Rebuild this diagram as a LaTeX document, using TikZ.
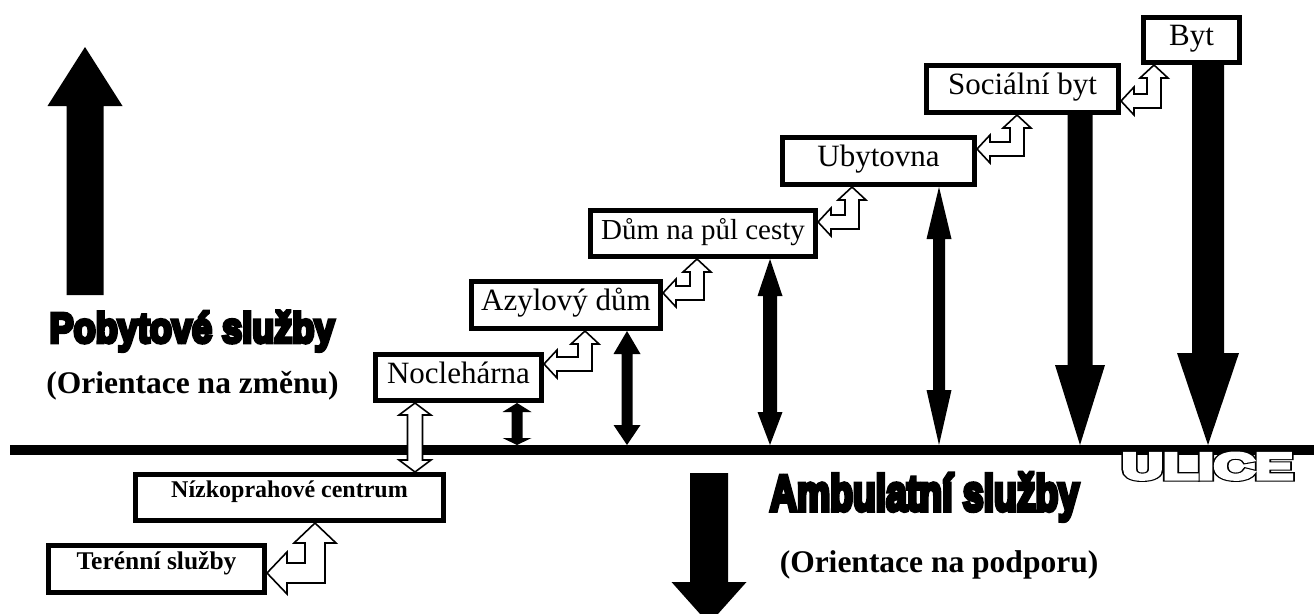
\documentclass[tikz,border=0pt]{standalone}
\usepackage{fontspec}
\usepackage{graphicx}
\setmainfont{Liberation Serif}
\newfontfamily\heavy{Liberation Sans Bold}[FakeBold=9]
\newfontfamily\heavyO{Liberation Sans Bold}[FakeBold=14]
\newfontfamily\heavyI{Liberation Sans Bold}[FakeBold=8]
\usetikzlibrary{calc}

\tikzset{
  box/.style={draw, line width=5pt, fill=white, inner sep=0pt, rectangle,
    font=\fontsize{31}{37}\selectfont, text height=24pt, text depth=13pt},
  boldbox/.style={box, font=\bfseries\fontsize{24}{28}\selectfont, text height=17pt, text depth=17pt},
  hollow/.style={draw, line width=1.6pt, fill=white, line join=miter},
  heavytext/.style={anchor=base, inner sep=0pt},
  subtitle/.style={anchor=base, inner sep=0pt, font=\bfseries\fontsize{31.5}{36}\selectfont},
}

% hollow elbow double arrow: lower node, upper node, xc, yc, w, a, h
\newcommand\elbow[7]{%
  \path[hollow] let \p1=(#1.east), \p2=(#2.south) in
    (\x1,{#4pt}) -- ({\x1+#7pt},{#4pt+#6pt}) -- ({\x1+#7pt},{#4pt+#5pt})
    -- ({#3pt-#5pt},{#4pt+#5pt}) -- ({#3pt-#5pt},{\y2-#7pt}) -- ({#3pt-#6pt},{\y2-#7pt})
    -- ({#3pt},\y2) -- ({#3pt+#6pt},{\y2-#7pt}) -- ({#3pt+#5pt},{\y2-#7pt})
    -- ({#3pt+#5pt},{#4pt-#5pt}) -- ({\x1+#7pt},{#4pt-#5pt}) -- ({\x1+#7pt},{#4pt-#6pt}) -- cycle;}

% black double arrow from node bottom to street: node, x, w, a, htop, hbot
\newcommand\vdouble[6]{%
  \fill let \p1=(#1.south), \p2=(street.north) in
    ({#2pt},\y1) -- ({#2pt+#4pt},{\y1-#5pt}) -- ({#2pt+#3pt},{\y1-#5pt})
    -- ({#2pt+#3pt},{\y2+#6pt}) -- ({#2pt+#4pt},{\y2+#6pt}) -- ({#2pt},\y2)
    -- ({#2pt-#4pt},{\y2+#6pt}) -- ({#2pt-#3pt},{\y2+#6pt}) -- ({#2pt-#3pt},{\y1-#5pt})
    -- ({#2pt-#4pt},{\y1-#5pt}) -- cycle;}

% black single down arrow from node to street: node, x, w, a, h
\newcommand\vdown[5]{%
  \fill let \p1=(#1.south), \p2=(street.north) in
    ({#2pt-#3pt},\y1) -- ({#2pt+#3pt},\y1) -- ({#2pt+#3pt},{\y2+#5pt})
    -- ({#2pt+#4pt},{\y2+#5pt}) -- ({#2pt},\y2) -- ({#2pt-#4pt},{\y2+#5pt})
    -- ({#2pt-#3pt},{\y2+#5pt}) -- cycle;}

% hollow vertical double arrow: upper node, lower node, x, w, a, h
\newcommand\vhollow[6]{%
  \path[hollow] let \p1=(#1.south), \p2=(#2.north) in
    ({#3pt},\y1) -- ({#3pt+#5pt},{\y1-#6pt}) -- ({#3pt+#4pt},{\y1-#6pt})
    -- ({#3pt+#4pt},{\y2+#6pt}) -- ({#3pt+#5pt},{\y2+#6pt}) -- ({#3pt},\y2)
    -- ({#3pt-#5pt},{\y2+#6pt}) -- ({#3pt-#4pt},{\y2+#6pt}) -- ({#3pt-#4pt},{\y1-#6pt})
    -- ({#3pt-#5pt},{\y1-#6pt}) -- cycle;}

\begin{document}
\begin{tikzpicture}[x=1pt,y=1pt]
\useasboundingbox (0,0) rectangle (1314,-613);
\clip (0,0) rectangle (1314,-613);

% street line
\node[fill=black, inner sep=0pt, outer sep=0pt, minimum width=1304pt, minimum height=10pt] (street) at (662,-450) {};

% boxes (outer size minus line width)
\node[box, minimum width=166pt, minimum height=46pt] (nocl) at (458.5,-377.5) {Noclehárna};
\node[box, minimum width=189pt, minimum height=47pt] (azyl) at (566,-305) {Azylový dům};
\node[box, minimum width=225pt, minimum height=46pt, font=\fontsize{29}{35}\selectfont] (dum) at (703,-233.5) {Dům na půl cesty};
\node[box, minimum width=192pt, minimum height=47pt] (ubyt) at (878.5,-161) {Ubytovna};
\node[box, minimum width=192pt, minimum height=47pt] (soc) at (1022.5,-89) {Sociální byt};
\node[box, minimum width=96pt, minimum height=45pt] (byt) at (1191.5,-40) {Byt};
\node[boldbox, minimum width=308pt, minimum height=46pt] (nizko) at (289.5,-497.5) {Nízkoprahové centrum};
\node[boldbox, minimum width=216pt, minimum height=47pt, font=\bfseries\fontsize{25.5}{30}\selectfont] (teren) at (156.5,-569) {Terénní služby};

% black arrows from the street up to the boxes
\vdouble{nocl}{517}{5.5}{14.5}{9}{7}
\vdouble{azyl}{627}{5.5}{13.5}{23}{20}
\vdouble{dum}{770}{7}{12.5}{37}{33}
\vdouble{ubyt}{939}{6}{12.5}{52}{55}
\vdown{soc}{1080}{12.5}{25}{80}
\vdown{byt}{1208}{16}{31}{92}

% hollow elbow arrows
\elbow{nocl}{azyl}{585}{-364}{7}{14}{13}
\elbow{azyl}{dum}{697}{-293}{7}{14}{13}
\elbow{dum}{ubyt}{852}{-222}{7}{14}{13}
\elbow{ubyt}{soc}{1017}{-149}{7}{14}{13}
\elbow{soc}{byt}{1154}{-101}{7}{14}{13}
\elbow{teren}{nizko}{315}{-573}{10}{21}{20}
\vhollow{nocl}{nizko}{415}{7.5}{16}{12}

% big arrows
\fill (85,-47) -- (122.5,-106) -- (103.5,-106) -- (103.5,-295) -- (66.5,-295) -- (66.5,-106) -- (47.5,-106) -- cycle;
\fill (690,-473) -- (728,-473) -- (728,-582) -- (746.5,-582) -- (709,-624) -- (671.5,-582) -- (690,-582) -- cycle;

% texts
\node[heavytext] (pob) at (192,-342.5) {\resizebox{285pt}{31.5pt}{\heavy Pobytové služby}};
\node[subtitle] (zmenu) at (192.5,-393) {(Orientace na změnu)};
\node[heavytext] (amb) at (924.5,-510.5) {\resizebox{309pt}{37.5pt}{\heavy Ambulatní služby}};
\node[subtitle] (podp) at (939,-572) {(Orientace na podporu)};
\node[heavytext] (uliceO) at (1207.5,-479) {\resizebox{171pt}{26pt}{\heavyO ULICE}};
\node[heavytext, text=white] (uliceI) at (1207.5,-479) {\resizebox{171pt}{26pt}{\heavyI ULICE}};
\end{tikzpicture}
\end{document}
